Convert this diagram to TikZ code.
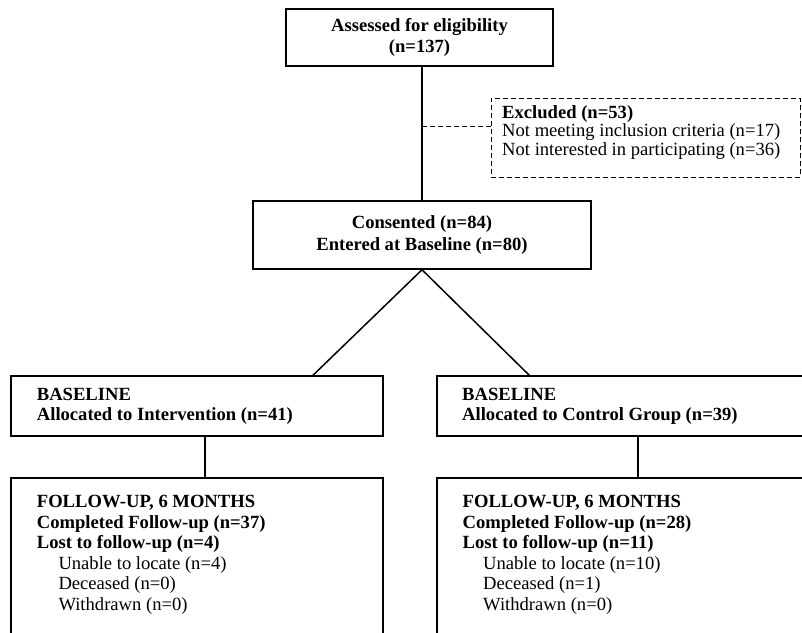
\documentclass[tikz,border=0pt]{standalone}
\usepackage{fontspec}
\setmainfont{Liberation Serif}
\begin{document}
\begin{tikzpicture}[x=1pt,y=-1pt,
  boxs/.style={draw,line width=1.5pt,inner sep=0pt,align=center,font=\bfseries\fontsize{18.6}{21.5}\selectfont},
  txt/.style={inner sep=0pt,anchor=north west,align=left,font=\fontsize{18.6}{20.6}\selectfont},
  conn/.style={line width=1.5pt},
  dconn/.style={line width=1pt,dash pattern=on 5pt off 3pt}]
\useasboundingbox (0,0) rectangle (802,632);
\clip (0,0) rectangle (802,632);
% top
\node[boxs,minimum width=267pt,minimum height=57pt] (top) at (419.5,37.5) {Assessed for eligibility\\(n=137)};
\node[boxs,minimum width=338pt,minimum height=68pt] (cons) at (422,235) {Consented (n=84)\\Entered at Baseline (n=80)};
% excluded
\node[draw,dconn,minimum width=309pt,minimum height=79pt,inner sep=0pt] (exc) at (645.5,137.5) {};
\node[txt,font=\fontsize{18.6}{18.3}\selectfont] (exctxt) at (502,105.5) {\textbf{Excluded (n=53)}\\Not meeting inclusion criteria (n=17)\\Not interested in participating (n=36)};
% left arm
\node[boxs,minimum width=372pt,minimum height=60pt] (lb) at (197,406) {};
\node[txt,font=\bfseries\fontsize{18.6}{20}\selectfont] (lbtxt) at (36.7,387.7) {BASELINE\\Allocated to Intervention (n=41)};
\node[boxs,minimum width=372pt,minimum height=222pt] (lf) at (197,589) {};
\node[txt] (lftxt) at (36.7,495) {\textbf{FOLLOW-UP, 6 MONTHS}\\\textbf{Completed Follow-up (n=37)}\\\textbf{Lost to follow-up (n=4)}\\\hspace*{21.6pt}Unable to locate (n=4)\\\hspace*{21.6pt}Deceased (n=0)\\\hspace*{21.6pt}Withdrawn (n=0)};
% right arm
\node[boxs,minimum width=413pt,minimum height=60pt] (rb) at (643.5,406) {};
\node[txt,font=\bfseries\fontsize{18.6}{20}\selectfont] (rbtxt) at (462,387.7) {BASELINE\\Allocated to Control Group (n=39)};
\node[boxs,minimum width=413pt,minimum height=222pt] (rf) at (643.5,589) {};
\node[txt] (rftxt) at (462.5,495) {\textbf{FOLLOW-UP, 6 MONTHS}\\\textbf{Completed Follow-up (n=28)}\\\textbf{Lost to follow-up (n=11)}\\\hspace*{20.5pt}Unable to locate (n=10)\\\hspace*{20.5pt}Deceased (n=1)\\\hspace*{20.5pt}Withdrawn (n=0)};
% connectors
\draw[conn] (cons.north) -- (cons.north |- top.south);
\coordinate (dj) at (422,126);
\draw[dconn] (dj) -- (dj -| exc.west);
\draw[conn] (cons.south) -- ([xshift=116pt]lb.north);
\draw[conn] (cons.south) -- ([xshift=93pt]rb.north west);
\draw[conn] ([xshift=8pt]lb.south) -- ([xshift=8pt]lb.south |- lf.north);
\draw[conn] ([xshift=201.5pt]rb.south west) -- ([xshift=201.5pt]rb.south west |- rf.north);
\end{tikzpicture}
\end{document}
